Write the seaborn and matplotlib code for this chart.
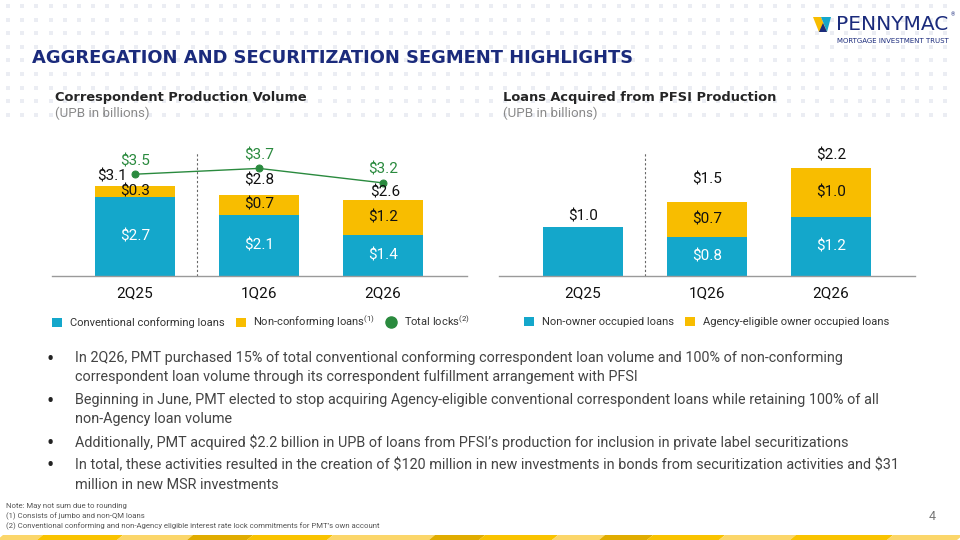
import numpy as np
import pandas as pd
import matplotlib
matplotlib.use("Agg")
import matplotlib.pyplot as plt
import seaborn as sns
from matplotlib.patches import Patch, Polygon
from matplotlib.lines import Line2D

# ---- data (UPB in billions) ----
quarters = ["2Q25", "1Q26", "2Q26"]

# Correspondent Production Volume
conventional = [2.7, 2.1, 1.4]
non_conforming = [0.3, 0.7, 1.2]
corr_total = [3.1, 2.8, 2.6]
total_locks = [3.5, 3.7, 3.2]

# Loans Acquired from PFSI Production
non_owner = [1.0, 0.8, 1.2]
agency_owner = [0.0, 0.7, 1.0]
pfsi_total = [1.0, 1.5, 2.2]

bullets = [
    ["In 2Q26, PMT purchased 15% of total conventional conforming correspondent loan volume and 100% of non-conforming",
     "correspondent loan volume through its correspondent fulfillment arrangement with PFSI"],
    ["Beginning in June, PMT elected to stop acquiring Agency-eligible conventional correspondent loans while retaining 100% of all",
     "non-Agency loan volume"],
    ["Additionally, PMT acquired \\$2.2 billion in UPB of loans from PFSI\u2019s production for inclusion in private label securitizations"],
    ["In total, these activities resulted in the creation of \\$120 million in new investments in bonds from securitization activities and \\$31",
     "million in new MSR investments"],
]
footnotes = [
    "Note: May not sum due to rounding",
    "(1) Consists of jumbo and non-QM loans",
    "(2) Conventional conforming and non-Agency eligible interest rate lock commitments for PMT\u2019s own account",
]

BLUE = "#14A7CB"
YELLOW = "#F8BD00"
GREEN = "#2A8A3E"
NAVY = "#1B2B7C"

sns.set_theme(style="white")
plt.rcParams["font.family"] = ["Roboto", "DejaVu Sans"]

fig = plt.figure(figsize=(9.6, 5.4), dpi=100)

# background / overlay axes in pixel coordinates
bg = fig.add_axes([0, 0, 1, 1], zorder=0)
bg.set_xlim(0, 960)
bg.set_ylim(540, 0)
bg.axis("off")

# faint dot grid in the header
gx, gy = np.meshgrid(np.arange(8, 958, 14.2), np.arange(6, 125, 13.6))
bg.scatter(gx.ravel(), gy.ravel(), marker="s", s=5, color="#EBEDF3", linewidths=0)


def fit(t, width):
    r = fig.canvas.get_renderer()
    w = t.get_window_extent(r).width
    t.set_fontsize(t.get_fontsize() * width / w)


def stacked_chart(ax, base, top_total, ymax):
    df = pd.DataFrame({"quarter": quarters, "total": top_total, "base": base})
    sns.barplot(data=df, x="quarter", y="total", color=YELLOW, saturation=1,
                width=0.645, linewidth=0, ax=ax)
    sns.barplot(data=df, x="quarter", y="base", color=BLUE, saturation=1,
                width=0.645, linewidth=0, ax=ax)
    ax.set_ylim(0, ymax)
    ax.set_xlabel("")
    ax.set_ylabel("")
    ax.set_yticks([])
    ax.tick_params(axis="x", length=0, pad=8, labelsize=11, labelcolor="#111111")
    sns.despine(ax=ax, left=True)
    ax.spines["bottom"].set_color("#9A9A9A")
    ax.spines["bottom"].set_linewidth(1)
    ax.patch.set_alpha(0)


def label(ax, x, y, s, color="#111111", dx=0, dy=0, size=11):
    ax.annotate(s, (x, y), xytext=(dx, dy), textcoords="offset pixels",
                ha="center", va="center", fontsize=size, color=color)


# ---- left chart ----
axl = fig.add_axes([52 / 960, 1 - 275.7 / 540, 415 / 960, 135.7 / 540], zorder=1)
stacked_chart(axl, conventional, corr_total, 135.7 / 29)
df_locks = pd.DataFrame({"quarter": quarters, "locks": total_locks})
sns.pointplot(data=df_locks, x="quarter", y="locks", color=GREEN, markersize=5,
              linewidth=1, ax=axl)
axl.set_xlim((52 - 135) / 124, (467 - 135) / 124)
axl.set_ylim(0, 135.7 / 29)
axl.set_xlabel("")
axl.set_ylabel("")
axl.axvline(0.5, ymax=0.91, color="#666666", ls=(0, (2, 2)), lw=0.8)

total_offsets = [(-23, 9), (0, 14), (2, 8)]
for i in range(3):
    label(axl, i, total_locks[i], f"\\${total_locks[i]:.1f}", color=GREEN, dy=13)
    label(axl, i, corr_total[i], f"\\${corr_total[i]:.1f}",
          dx=total_offsets[i][0], dy=total_offsets[i][1])
    label(axl, i, (conventional[i] + corr_total[i]) / 2, f"\\${non_conforming[i]:.1f}")
    label(axl, i, conventional[i] / 2, f"\\${conventional[i]:.1f}", color="white")

# ---- right chart ----
axr = fig.add_axes([499 / 960, 1 - 275.7 / 540, 416 / 960, 135.7 / 540], zorder=1)
stacked_chart(axr, non_owner, pfsi_total, 135.7 / 49)
axr.set_xlim((499 - 583) / 124, (915 - 583) / 124)
axr.axvline(0.5, ymax=0.906, color="#666666", ls=(0, (2, 2)), lw=0.8)

pfsi_offsets = [(0, 10), (0, 23), (0, 12)]
for i in range(3):
    label(axr, i, pfsi_total[i], f"\\${pfsi_total[i]:.1f}",
          dx=pfsi_offsets[i][0], dy=pfsi_offsets[i][1])
    if agency_owner[i] > 0:
        label(axr, i, (non_owner[i] + pfsi_total[i]) / 2, f"\\${agency_owner[i]:.1f}")
        label(axr, i, non_owner[i] / 2, f"\\${non_owner[i]:.1f}", color="white")

# ---- legends ----
leg_kw = dict(frameon=False, fontsize=8, handlelength=0.9, handleheight=0.9,
              handletextpad=0.7, columnspacing=1.0, borderaxespad=0, borderpad=0,
              labelcolor="#333333", loc="center left")
h_left = [Patch(color=BLUE, lw=0), Patch(color=YELLOW, lw=0),
          Line2D([], [], marker="o", color=GREEN, ls="none", markersize=8)]
fig.legend(h_left, ["Conventional conforming loans",
                    "Non-conforming loans$^{\\mathregular{(1)}}$",
                    "Total locks$^{\\mathregular{(2)}}$"],
           ncol=3, bbox_to_anchor=(52 / 960, 1 - 322 / 540), **leg_kw)
h_right = [Patch(color=BLUE, lw=0), Patch(color=YELLOW, lw=0)]
fig.legend(h_right, ["Non-owner occupied loans", "Agency-eligible owner occupied loans"],
           ncol=2, bbox_to_anchor=(524 / 960, 1 - 322 / 540), **leg_kw)

# ---- headings ----
t = bg.text(32, 58, "AGGREGATION AND SECURITIZATION SEGMENT HIGHLIGHTS", color=NAVY,
            fontsize=12.5, fontweight="heavy", family="DejaVu Sans", va="center")
fit(t, 604)
for x0, head, w in [(55, "Correspondent Production Volume", 253),
                    (503, "Loans Acquired from PFSI Production", 274)]:
    t = bg.text(x0, 97, head, color="#262626", fontsize=10, fontweight="bold",
                family="DejaVu Sans", va="center")
    fit(t, w)
    t = bg.text(x0, 113, "(UPB in billions)", color="#8A8A8A", fontsize=8, va="center")
    fit(t, 95)

# ---- bullets ----
line_y = [[358, 377], [400, 419], [442], [465, 485]]
ref = bg.text(75, line_y[0][0], bullets[0][0], fontsize=10.5, color="#444444", va="center")
fit(ref, 770)
fs = ref.get_fontsize()
for b, ys in zip(bullets, line_y):
    bg.text(50, ys[0] + 2, "\u2022", fontsize=fs * 1.5, color="#222222", va="center",
            ha="center")
    for line, y in zip(b, ys):
        if line is bullets[0][0]:
            continue
        bg.text(75, y, line, fontsize=fs, color="#444444", va="center")

# ---- footnotes ----
fn_texts = []
for s, y in zip(footnotes, [506, 516, 526]):
    fn_texts.append(bg.text(6, y, s, fontsize=6, color="#555555", va="center"))
fit(fn_texts[2], 379)
for ft in fn_texts[:2]:
    ft.set_fontsize(fn_texts[2].get_fontsize())
bg.text(932, 517, "4", fontsize=9, color="#777777", va="center", ha="center")

# ---- logo ----
t = bg.text(836, 24, "PENNYMAC", fontsize=10, color=NAVY, va="center", family="DejaVu Sans")
fit(t, 112)
t = bg.text(837, 41, "MORTGAGE INVESTMENT TRUST", fontsize=4, color=NAVY, va="center",
            family="DejaVu Sans")
fit(t, 110)
bg.text(951, 15, "\u00ae", fontsize=4, color=NAVY, va="center")
bg.add_patch(Polygon([(813, 17), (821, 17), (827, 32), (819, 32)], color=YELLOW, lw=0))
bg.add_patch(Polygon([(821, 17), (831, 17), (827, 32)], color=BLUE, lw=0))
bg.add_patch(Polygon([(819, 32), (827, 32), (823, 23)], color=NAVY, lw=0))

# ---- bottom stripe ----
stripe = [(0, 40, "#FBD66A"), (40, 120, "#F9C300"), (120, 190, "#FBD66A"),
          (190, 250, "#E0AC00"), (250, 330, "#F9C300"), (330, 432, "#FBD66A"),
          (432, 482, "#E0AC00"), (482, 555, "#F9C300"), (555, 602, "#FBD66A"),
          (602, 650, "#E0AC00"), (650, 722, "#F9C300"), (722, 793, "#FBD66A"),
          (793, 890, "#F9C300"), (890, 960, "#FBD66A")]
for a, b, c in stripe:
    bg.add_patch(Polygon([(a + 3, 535), (b + 3, 535), (b - 3, 540), (a - 3, 540)],
                         color=c, lw=0))

fig.savefig("out.png", dpi=100)
